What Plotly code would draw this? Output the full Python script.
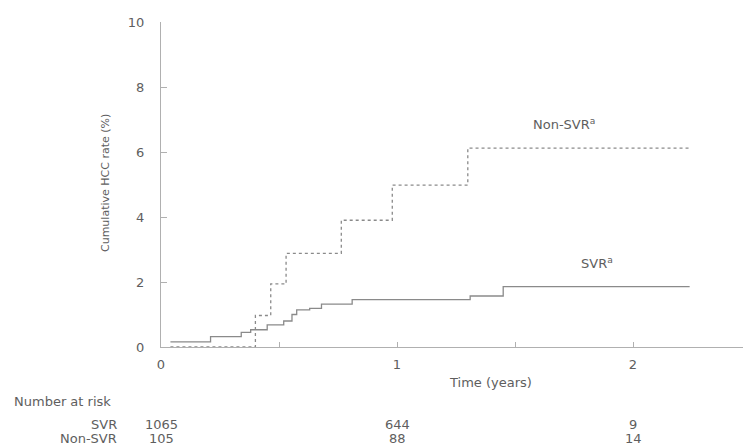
import plotly.graph_objects as go

# Step points (time in years, cumulative HCC rate %)
svr_t = [0.04, 0.21, 0.34, 0.38, 0.45, 0.52, 0.555, 0.575, 0.63, 0.68, 0.81, 1.31, 1.45, 2.24]
svr_y = [0.16, 0.32, 0.45, 0.53, 0.68, 0.80, 1.00, 1.14, 1.19, 1.32, 1.46, 1.57, 1.86, 1.86]

nonsvr_t = [0.04, 0.40, 0.465, 0.53, 0.764, 0.98, 1.30, 2.24]
nonsvr_y = [0.0, 0.97, 1.94, 2.88, 3.90, 4.98, 6.12, 6.12]

risk_times = [0, 1, 2]
risk_svr = ["1065", "644", "9"]
risk_nonsvr = ["105", "88", "14"]

x_tickvals = [0, 0.5, 1, 1.5, 2, 2.5]
x_ticktext = ["0", "", "1", "", "2", ""]
y_tickvals = [0, 2, 4, 6, 8, 10]

FONT = "DejaVu Sans"
TXT = "#5e5e5e"
AX = "#b0b0b0"
FS = 13

OFF = 8  # page body margin
W, H = 751 - OFF, 445 - OFF
L, R = 161 - OFF, 0
T = 22 - OFF
B = H - (347 - OFF)
pw = W - L - R
ph = H - T - B

def px_x(p):
    return (p - OFF - L) / pw

def px_y(p):
    return (H - B - (p - OFF)) / ph

fig = go.Figure()
fig.add_trace(go.Scatter(x=svr_t, y=svr_y, mode="lines", line=dict(shape="hv", color="#8a8a8a", width=1.3),
                         name="SVR", showlegend=False, hoverinfo="skip"))
fig.add_trace(go.Scatter(x=nonsvr_t, y=nonsvr_y, mode="lines", line=dict(shape="hv", color="#8a8a8a", width=1.3, dash="dot"),
                         name="Non-SVR", showlegend=False, hoverinfo="skip"))

def f(size=FS):
    return dict(family=FONT, size=size, color=TXT)

ann = []
ann.append(dict(x=1.569, y=6.86, xref="x", yref="y", text="Non-SVR<sup>a</sup>", showarrow=False,
                xanchor="left", yanchor="middle", font=f()))
ann.append(dict(x=1.772, y=2.58, xref="x", yref="y", text="SVR<sup>a</sup>", showarrow=False,
                xanchor="left", yanchor="middle", font=f()))
ann.append(dict(x=px_x(105), y=px_y(183), xref="paper", yref="paper", text="Cumulative HCC rate (%)",
                textangle=-90, showarrow=False, xanchor="center", yanchor="middle", font=f(11)))
ann.append(dict(x=px_x(490), y=px_y(382), xref="paper", yref="paper", text="Time (years)", showarrow=False,
                xanchor="center", yanchor="middle", font=f()))
ann.append(dict(x=px_x(12), y=px_y(401), xref="paper", yref="paper", text="Number at risk", showarrow=False,
                xanchor="left", yanchor="middle", font=f()))
ann.append(dict(x=px_x(119), y=px_y(424), xref="paper", yref="paper", text="SVR", showarrow=False,
                xanchor="right", yanchor="middle", font=f()))
ann.append(dict(x=px_x(119), y=px_y(438), xref="paper", yref="paper", text="Non-SVR", showarrow=False,
                xanchor="right", yanchor="middle", font=f()))
for t, a, b in zip(risk_times, risk_svr, risk_nonsvr):
    ann.append(dict(x=t, y=px_y(424), xref="x", yref="paper", text=a, showarrow=False,
                    xanchor="center", yanchor="middle", font=f()))
    ann.append(dict(x=t, y=px_y(438), xref="x", yref="paper", text=b, showarrow=False,
                    xanchor="center", yanchor="middle", font=f()))

fig.update_layout(
    width=W, height=H,
    margin=dict(l=L, r=R, t=T, b=B, pad=0),
    plot_bgcolor="white", paper_bgcolor="white",
    annotations=ann,
    xaxis=dict(range=[0, 2.5], tickvals=x_tickvals, ticktext=x_ticktext, ticks="inside", ticklen=5,
               tickcolor=AX, showline=True, linecolor=AX, linewidth=1.2, showgrid=False, zeroline=False,
               tickfont=f(), ticklabelstandoff=5),
    yaxis=dict(range=[0, 10], tickvals=y_tickvals, ticks="inside", ticklen=6,
               tickcolor=AX, showline=True, linecolor=AX, linewidth=1.2, showgrid=False, zeroline=False,
               tickfont=f(), ticklabelstandoff=13),
)

fig.write_html("out.html")
